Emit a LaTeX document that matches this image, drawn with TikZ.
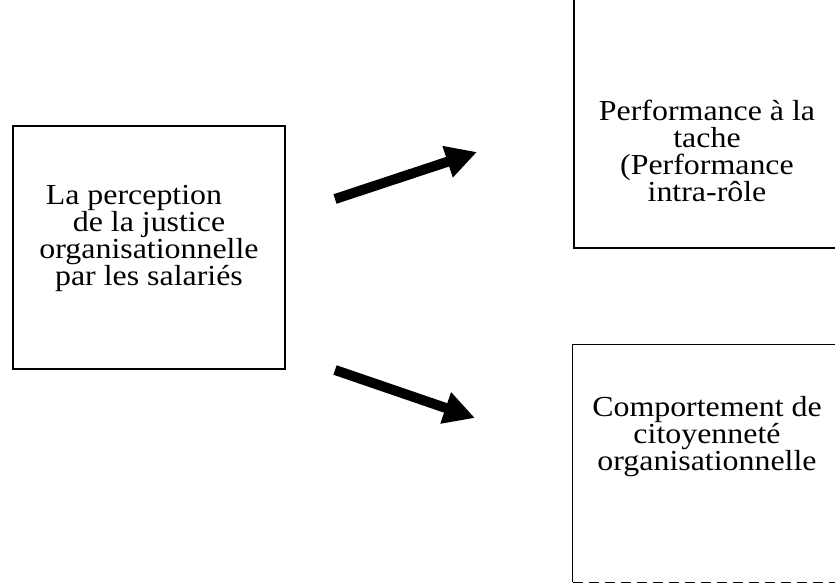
\documentclass[tikz,border=0pt]{standalone}
\usepackage{fontspec}
\setmainfont{Liberation Serif}[FakeStretch=1.1]
\usetikzlibrary{arrows.meta,calc}

\tikzset{
  frame/.style={draw=black, line width=1.3pt, inner sep=0pt},
  % anchor=base sits on the baseline of the last line
  label text/.style={align=center, inner sep=0pt, anchor=base,
    font=\fontsize{29}{27}\selectfont},
  bold arrow/.style={line width=10pt,
    -{Triangle[length=31pt,width=31pt]}}
}

\begin{document}
\begin{tikzpicture}[x=1pt,y=-1pt]
  \useasboundingbox (0,0) rectangle (835,587);
  \clip (0,0) rectangle (835,587);

  % left box: the independent variable
  \node[frame, minimum width=272pt, minimum height=243pt] (justice) at (149,247.5) {};
  \node[label text] (justiceText) at (149,285)
    {La perception\rule{30pt}{0pt}\\de la justice\\organisationnelle\\par les salariés};

  % upper right box, running off the page at the top and right
  \node[frame, minimum width=280pt, minimum height=268pt] (task) at (714,114) {};
  \node[label text] (taskText) at (707,201)
    {Performance à la\\tache\\(Performance\\intra-rôle};

  % lower right box: open to the right, dashed base
  \node[inner sep=0pt, minimum width=280pt, minimum height=237pt] (ocb) at (713,463.5) {};
  \draw[line width=1.3pt] (ocb.south west) -- (ocb.north west) -- (ocb.north east);
  \draw[line width=1.3pt, dash pattern=on 10pt off 6pt] (ocb.south west) -- (ocb.south east);
  \node[label text] (ocbText) at (707,470)
    {Comportement de\\citoyenneté\\organisationnelle};

  % the two effects
  \coordinate (upStart) at (335,199);
  \coordinate (upEnd) at (477,152);
  \coordinate (downStart) at (335,370);
  \coordinate (downEnd) at (475,418);
  \draw[bold arrow] (upStart) -- (upEnd);
  \draw[bold arrow] (downStart) -- (downEnd);
\end{tikzpicture}
\end{document}
